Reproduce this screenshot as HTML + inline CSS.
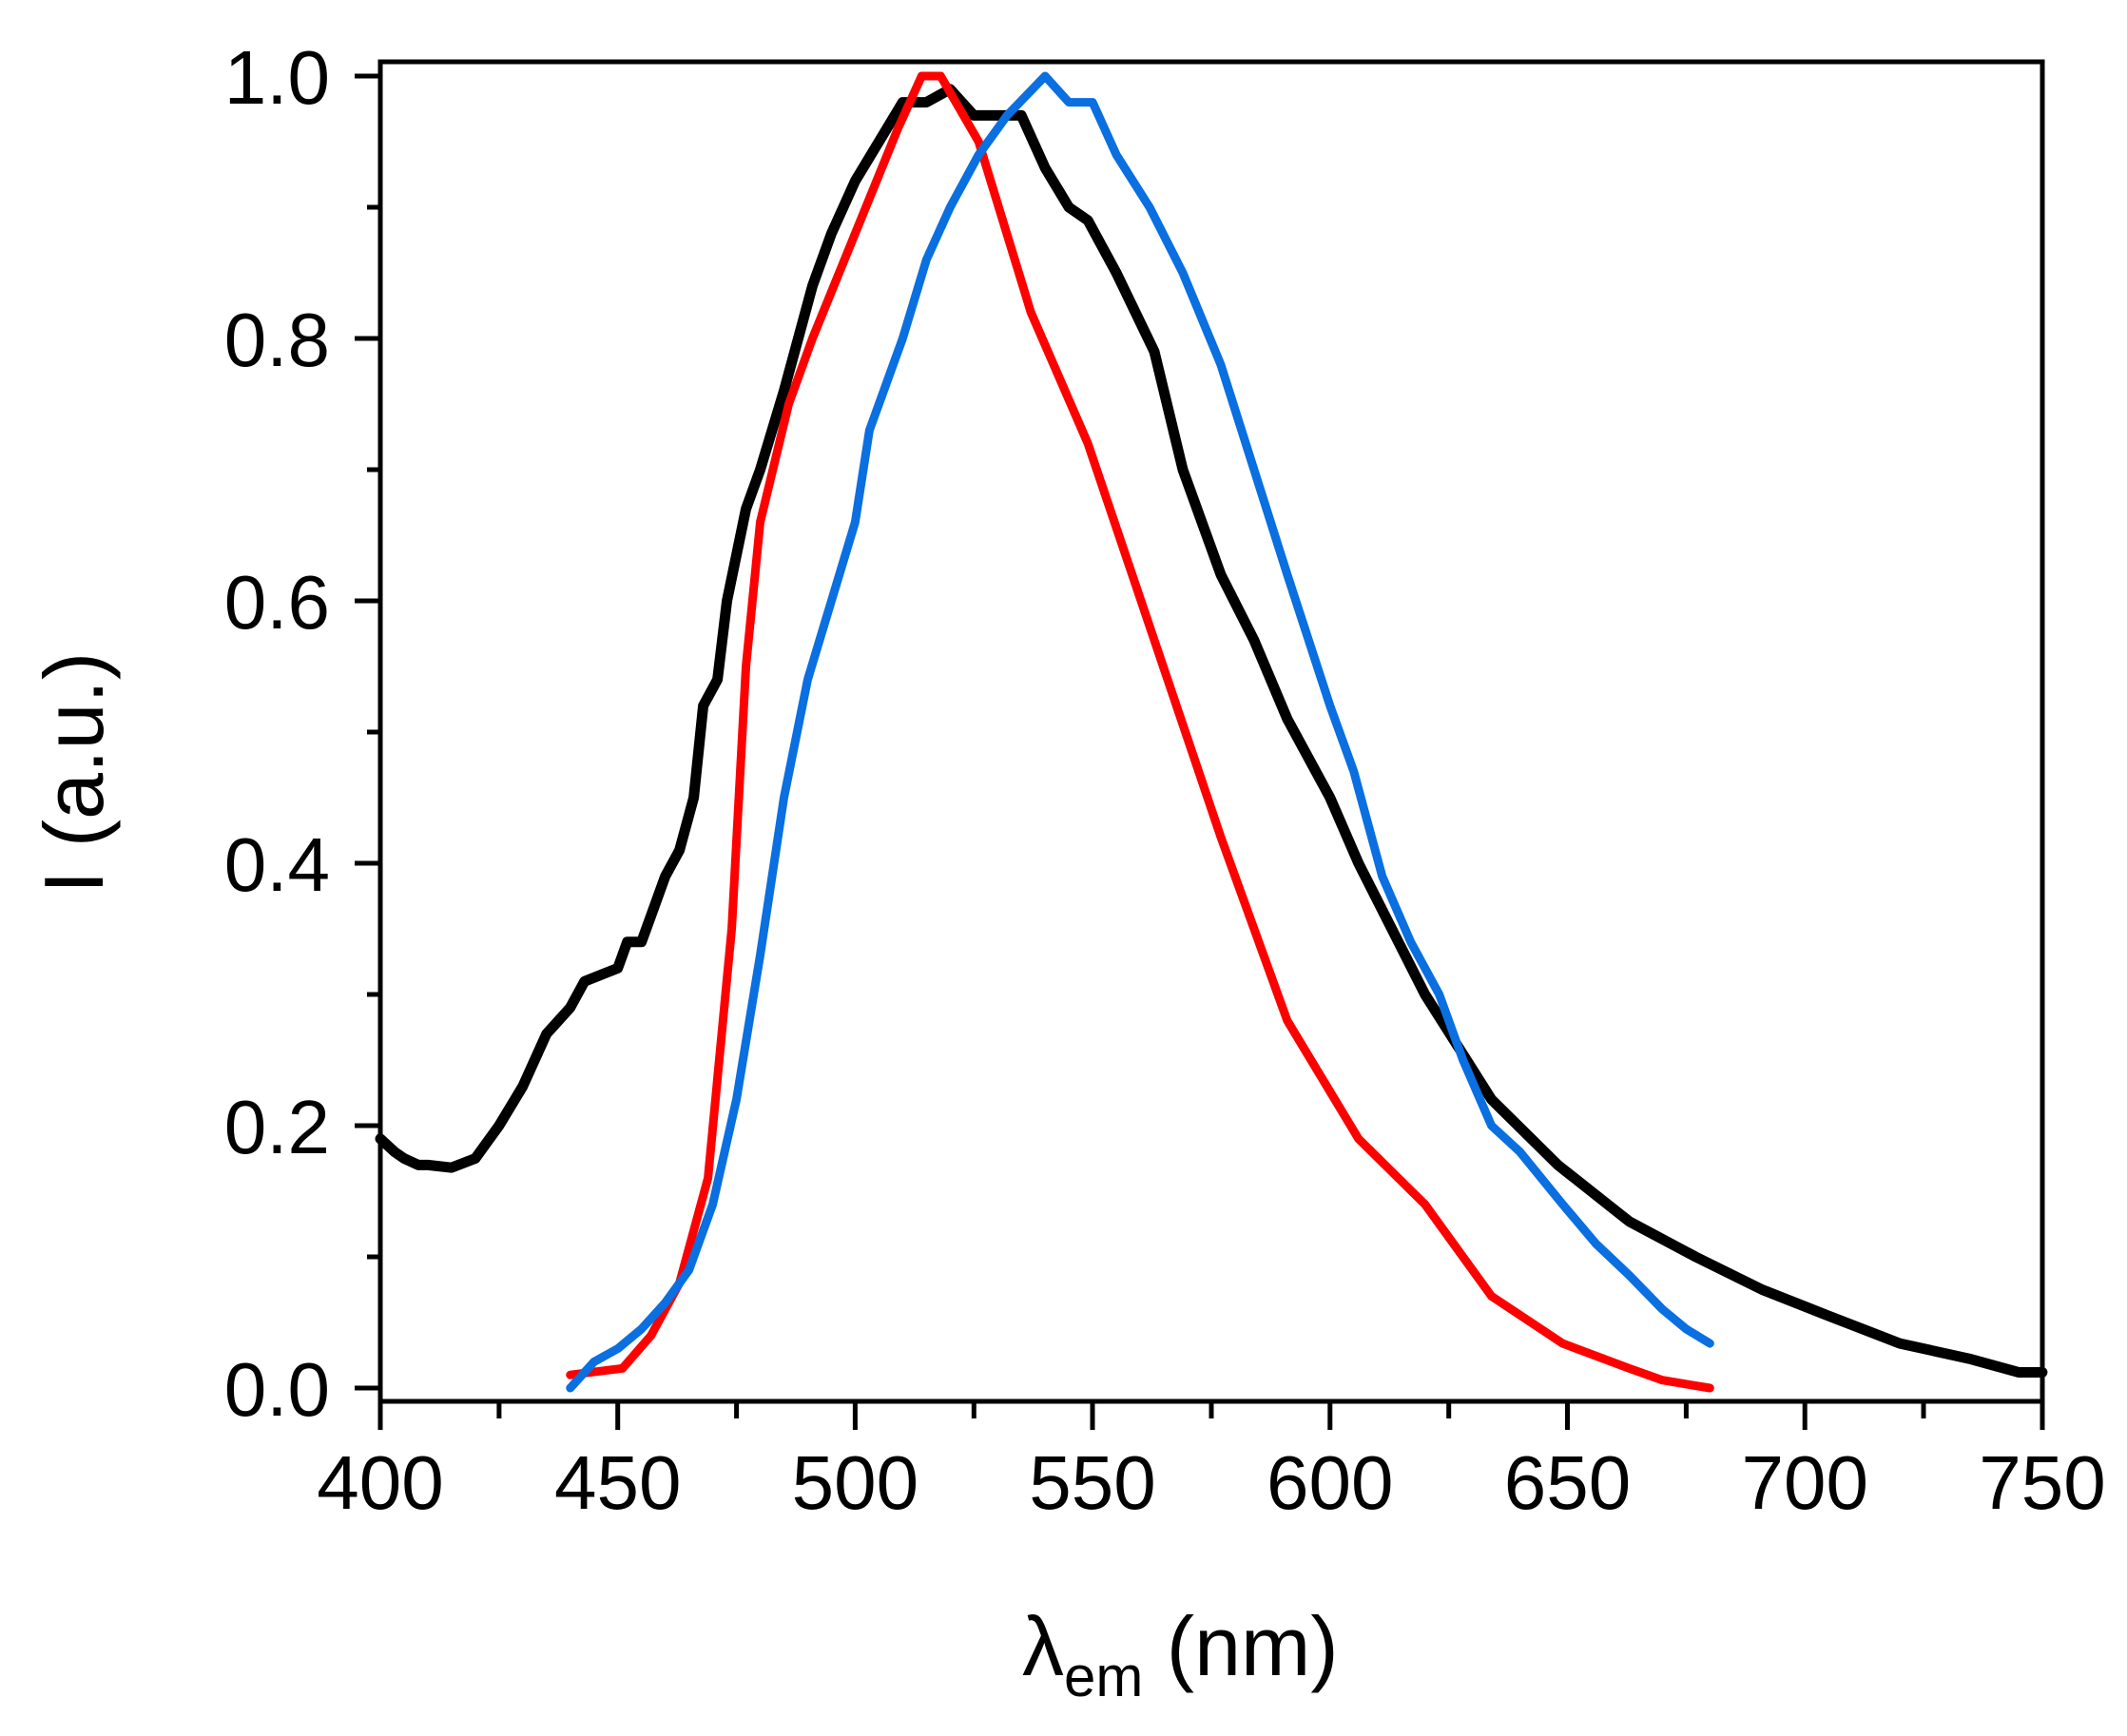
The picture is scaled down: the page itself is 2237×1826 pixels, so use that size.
<!DOCTYPE html>
<html><head><meta charset="utf-8"><style>
body{margin:0;background:#fff}
svg{display:block}
text{font-family:"Liberation Sans",Arial,sans-serif;fill:#000}
</style></head><body>
<svg width="2237" height="1826" viewBox="0 0 2237 1826" xmlns="http://www.w3.org/2000/svg">
<rect width="2237" height="1826" fill="#fff"/>
<g transform="translate(400,1460) scale(4.994,-1380) translate(-400,0)" fill="none" stroke-linejoin="round" stroke-linecap="round">
<polyline vector-effect="non-scaling-stroke" stroke="#000" stroke-width="11" points="400,0.19 403,0.18 405,0.175 408,0.17 410,0.17 415,0.168 420,0.175 425,0.2 430,0.23 435,0.27 440,0.29 443,0.31 450,0.32 452,0.34 455,0.34 457,0.36 460,0.39 463,0.41 466,0.45 468,0.52 471,0.54 473,0.6 477,0.67 480,0.7 485,0.76 491,0.84 495,0.88 500,0.92 505,0.95 510,0.98 515,0.98 520,0.99 525,0.97 530,0.97 535,0.97 540,0.93 545,0.9 549,0.89 555,0.85 563,0.79 569,0.70 577,0.62 584,0.57 591,0.51 600,0.45 606,0.40 613,0.35 620,0.30 627,0.26 634,0.22 648,0.17 663,0.127 677,0.1 691,0.075 705,0.055 720,0.034 735,0.022 745,0.012 750,0.012"/>
<polyline vector-effect="non-scaling-stroke" stroke="#ff0000" stroke-width="9" points="440,0.01 451,0.015 457,0.04 460,0.06 463,0.08 469,0.16 474,0.35 477,0.55 480,0.66 486,0.75 491,0.8 500,0.88 509,0.96 514,1.0 518,1.0 526,0.95 537,0.82 549,0.72 563,0.57 577,0.42 591,0.28 606,0.19 620,0.14 634,0.07 649,0.034 663,0.015 670,0.006 680,0.0"/>
<polyline vector-effect="non-scaling-stroke" stroke="#0a6fe0" stroke-width="9" points="440,0 445,0.02 450,0.03 455,0.045 460,0.065 465,0.09 470,0.14 475,0.22 480,0.33 485,0.45 490,0.54 495,0.6 500,0.66 503,0.73 510,0.8 515,0.86 520,0.9 526,0.94 532,0.97 540,1.0 545,0.98 550,0.98 555,0.94 562,0.9 569,0.85 577,0.78 584,0.7 591,0.62 600,0.52 605,0.47 611,0.39 617,0.34 623,0.30 628,0.25 634,0.20 640,0.18 649,0.14 656,0.11 663,0.086 670,0.06 675,0.045 680,0.034"/>
</g>
<rect x="400" y="65" width="1748" height="1409" fill="none" stroke="#000" stroke-width="5"/>
<g stroke="#000" stroke-width="5">
<path d="M400 1474v30M649.7 1474v30M899.4 1474v30M1149 1474v30M1398.8 1474v30M1648.5 1474v30M1898.2 1474v30M2148 1474v30"/>
<path d="M524.9 1474v18M774.6 1474v18M1024.3 1474v18M1274 1474v18M1523.7 1474v18M1773.4 1474v18M2023 1474v18"/>
<path d="M400 1460h-27M400 1184h-27M400 908h-27M400 632h-27M400 356h-27M400 80h-27"/>
<path d="M400 1322h-14M400 1046h-14M400 770h-14M400 494h-14M400 218h-14"/>
</g>
<g font-size="80" text-anchor="middle">
<text x="400" y="1587">400</text><text x="649.7" y="1587">450</text><text x="899.4" y="1587">500</text><text x="1149" y="1587">550</text><text x="1398.8" y="1587">600</text><text x="1648.5" y="1587">650</text><text x="1898.2" y="1587">700</text><text x="2148" y="1587">750</text>
</g>
<g font-size="80" text-anchor="end">
<text x="347" y="1489">0.0</text><text x="347" y="1213">0.2</text><text x="347" y="937">0.4</text><text x="347" y="661">0.6</text><text x="347" y="385">0.8</text><text x="347" y="109">1.0</text>
</g>
<text transform="translate(108,813) rotate(-90)" font-size="88" text-anchor="middle">I (a.u.)</text>
<text x="1075" y="1762" font-size="88">λ<tspan font-size="60" dy="22">em</tspan><tspan dy="-22"> (nm)</tspan></text>
</svg>
</body></html>
